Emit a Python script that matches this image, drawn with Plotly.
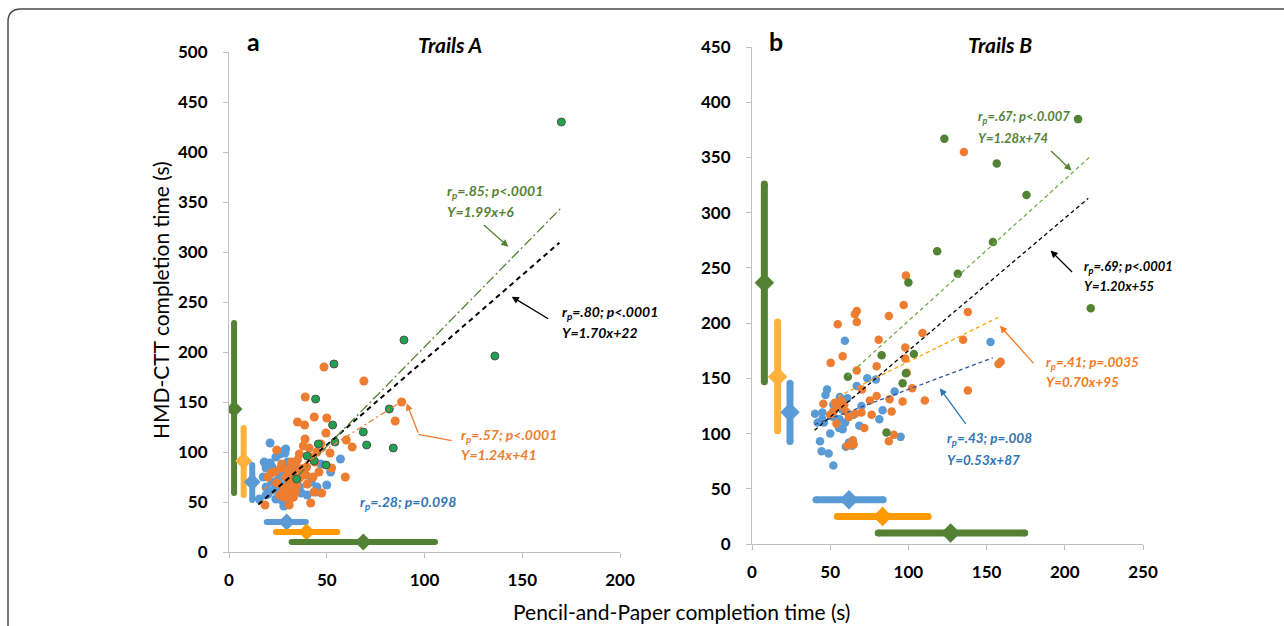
import plotly.graph_objects as go

W, H = 1284, 626
FONT = "Lato, 'Open Sans', sans-serif"

# ---------------- Panel a (Trails A) ----------------
a_blue_x = [21, 57, 50, 45, 24, 26, 28, 29, 22, 17.5, 19, 15.5, 19, 25, 26, 24, 31, 33, 26, 26, 37, 36, 28, 38,
            22, 19, 30, 33, 20, 29, 35, 23, 31, 27, 40, 42, 18, 30, 52, 47, 32, 24, 21, 28.6, 44.8]
a_blue_y = [109, 93, 67, 65, 95, 98, 101, 103, 85, 75, 65, 53, 57, 72, 78, 70, 75, 80, 60, 63, 59, 65, 46, 77,
            70, 84, 90, 87, 58, 68, 72, 62, 55, 52, 57, 70, 90, 82, 80, 88, 58, 53, 89, 99, 60]
a_orange_x = [48.6, 69, 88.3, 39, 35, 38.7, 43.6, 50, 85, 38.9, 49.6, 60, 63, 38, 36, 51.7, 52.5, 59.5, 24.4, 26.4,
              21.5, 23.5, 32, 30.3, 32.6, 39.4, 40, 24.4, 30, 32, 33, 26, 18.4, 30.8, 41.8, 47.4, 43.5, 28, 34, 36,
              34.6, 37.6, 39.7, 42, 45, 41, 47, 35, 31, 29, 27, 44, 33, 36, 28, 20, 46, 31, 34, 43]
a_orange_y = [185, 171, 150, 155, 130, 127, 135, 134, 131, 113, 119, 112, 105, 106, 98, 99, 84, 75, 102, 84,
              79, 80, 90, 82, 77, 77, 68, 69, 62, 58, 55, 57, 47, 47, 49, 59, 60, 64, 86, 83,
              66, 80, 85, 95, 100, 104, 108, 92, 70, 75, 88, 90, 62, 74, 55, 75, 80, 52, 60, 75]
a_green_x = [170, 136, 89.5, 53.7, 44.3, 53, 68.7, 70.4, 84, 82, 45.7, 54.2, 40, 43.6, 49.6, 34.6]
a_green_y = [430, 196, 212, 188, 153, 127, 120, 107, 104, 143, 108, 110, 96, 91, 87, 73]

# summary bars (green, orange, blue) along y; (blue, orange, green) along x
a_vbar_x = [2.6, 7.5, 11.9]
a_vbar_lo = [59, 57, 52]
a_vbar_mid = [143, 91, 70]
a_vbar_hi = [229, 124, 87]
a_hbar_y = [30, 20, 10]
a_hbar_lo = [19.3, 24, 32]
a_hbar_mid = [29.5, 39.7, 68.7]
a_hbar_hi = [39.3, 55.4, 105.4]

# regression lines: black, green, orange
a_fit_slope = [1.70, 1.99, 1.24]
a_fit_icpt = [22, 6, 41]
a_fit_x0 = [15, 35, 17]
a_fit_x1 = [169, 170, 88]

# ---------------- Panel b (Trails B) ----------------
b_blue_x = [59.4, 73.7, 79.2, 48, 47, 56.2, 67, 61, 40.3, 45, 45, 46, 52, 52, 52, 57.5, 70, 83.5, 81.4, 91.2,
            59.6, 55.6, 58, 68.6, 43.5, 44.5, 49, 60, 64, 62, 52, 95, 152.5, 50, 42, 65, 56]
b_blue_y = [184, 150, 149, 140, 135, 133, 143, 132, 118, 119, 113, 110, 126, 120, 115, 122, 125, 121, 113, 138,
            110, 105, 104, 107, 93, 84, 82, 88, 89, 92, 71, 97, 183, 100, 110, 117, 113]
b_orange_x = [67, 65.8, 67, 54.8, 87.5, 97, 109, 81, 50.3, 58, 67, 79.7, 98, 98, 99, 102.4, 70.3, 75.4, 79.7, 88,
              96.3, 110.5, 89.3, 45.6, 53, 55, 52, 50, 57, 59, 66, 70, 76.5, 54, 71.8, 64.5, 65, 61, 90.7, 87.5,
              135.5, 138, 135, 159, 157.6, 138, 98.4, 60, 62]
b_orange_y = [211, 208, 201, 199, 206.5, 216.5, 191, 185, 164, 170, 157, 161, 178, 168, 155, 141, 140, 130, 134, 131,
              129, 130, 120, 127, 128, 124, 120, 117, 130, 126, 118, 119, 117, 109, 105, 94, 90, 89, 99, 93,
              355, 210, 185, 165, 163, 139, 243, 120, 115]
b_green_x = [208.5, 123, 156.5, 175.5, 154, 118.4, 131.6, 216.6, 100, 103.5, 98.4, 96.3, 82.9, 61.3, 86]
b_green_y = [384.7, 367, 344.5, 316, 273.5, 265, 244.6, 213.5, 236.7, 172, 154.6, 145.6, 171, 151.5, 101]

b_vbar_x = [7.9, 16.4, 24.3]
b_vbar_lo = [147, 102.6, 92.7]
b_vbar_mid = [236.5, 151.5, 119.3]
b_vbar_hi = [326, 201, 145.5]
b_hbar_y = [40, 25, 10]
b_hbar_lo = [40.9, 54.5, 80.7]
b_hbar_mid = [62, 83.5, 127]
b_hbar_hi = [83.9, 112.7, 174.4]

# regression lines: black, green, orange, blue
b_fit_slope = [1.20, 1.28, 0.70, 0.53]
b_fit_icpt = [55, 74, 95, 87]
b_fit_x0 = [40, 61, 55, 40]
b_fit_x1 = [215, 217, 159, 154]

# ---------------- colours ----------------
BLUE = "#5B9BD5"
ORANGE = "#ED7D31"
GREEN_A = "#1FA350"
GREEN = "#548235"
ORANGE_V = "#FFB13D"
ORANGE_H = "#FF9A00"

fig = go.Figure()


def pts(x, y, color, xa, ya, size=8, line=None):
    fig.add_trace(go.Scatter(x=x, y=y, mode="markers", xaxis=xa, yaxis=ya, hoverinfo="skip",
                             marker=dict(color=color, size=size, opacity=1,
                                         line=line or dict(width=0))))


def bar(xs, ys, color, xa, ya, lw, dsize):
    fig.add_trace(go.Scatter(x=xs, y=ys, mode="lines+markers", xaxis=xa, yaxis=ya, hoverinfo="skip",
                             line=dict(color=color, width=lw),
                             marker=dict(color=color, symbol=["circle", "diamond", "circle"], opacity=1,
                                         size=[lw, dsize, lw], line=dict(width=0))))


def fit(x0, x1, m, c, color, dash, width, xa, ya):
    fig.add_trace(go.Scatter(x=[x0, x1], y=[m * x0 + c, m * x1 + c], mode="lines", xaxis=xa, yaxis=ya,
                             hoverinfo="skip", line=dict(color=color, dash=dash, width=width)))


# panel a
pts(a_blue_x, a_blue_y, BLUE, "x", "y", 9)
pts(a_orange_x, a_orange_y, ORANGE, "x", "y", 9)
pts(a_green_x, a_green_y, GREEN_A, "x", "y", 8, dict(color="#505050", width=1))
a_vcols = [GREEN, ORANGE_V, BLUE]
for i in range(3):
    bar([a_vbar_x[i]] * 3, [a_vbar_lo[i], a_vbar_mid[i], a_vbar_hi[i]], a_vcols[i], "x", "y", 6, 13)
a_hcols = [BLUE, ORANGE_H, GREEN]
for i in range(3):
    bar([a_hbar_lo[i], a_hbar_mid[i], a_hbar_hi[i]], [a_hbar_y[i]] * 3, a_hcols[i], "x", "y", 6, 13)
a_fit_cols = ["black", GREEN, ORANGE]
a_fit_dash = ["5px,4px", "10px,3px,2px,3px", "6px,3px,2px,3px"]
a_fit_w = [2, 1.3, 1.3]
for i in range(3):
    fit(a_fit_x0[i], a_fit_x1[i], a_fit_slope[i], a_fit_icpt[i], a_fit_cols[i], a_fit_dash[i], a_fit_w[i], "x", "y")

# panel b
pts(b_blue_x, b_blue_y, BLUE, "x2", "y2", 8.5)
pts(b_orange_x, b_orange_y, ORANGE, "x2", "y2", 8.5)
pts(b_green_x, b_green_y, GREEN, "x2", "y2", 8.5)
b_vcols = [GREEN, ORANGE_V, BLUE]
for i in range(3):
    bar([b_vbar_x[i]] * 3, [b_vbar_lo[i], b_vbar_mid[i], b_vbar_hi[i]], b_vcols[i], "x2", "y2", 7, 15)
b_hcols = [BLUE, ORANGE_H, GREEN]
for i in range(3):
    bar([b_hbar_lo[i], b_hbar_mid[i], b_hbar_hi[i]], [b_hbar_y[i]] * 3, b_hcols[i], "x2", "y2", 7, 15)
b_fit_cols = ["black", "#70AD47", "#FFA000", "#2F5597"]
for i in range(4):
    fit(b_fit_x0[i], b_fit_x1[i], b_fit_slope[i], b_fit_icpt[i], b_fit_cols[i], "4px,3px", 1.3, "x2", "y2")

# ---------------- axes ----------------
def px(x):
    return x / W


def py(y):
    return 1 - y / H


axis_common = dict(showgrid=False, zeroline=False, showline=True, linecolor="#BFBFBF", linewidth=1,
                   ticks="outside", ticklen=5, tickcolor="#BFBFBF", automargin=False,
                   tickfont=dict(family=FONT, size=17, color="black", weight="bold"), fixedrange=True)

fig.update_layout(
    width=W, height=H, margin=dict(l=0, r=0, t=0, b=0, pad=0, autoexpand=False), showlegend=False,
    paper_bgcolor="white", plot_bgcolor="white",
    xaxis=dict(domain=[px(229), px(620)], range=[0, 200], dtick=50, anchor="y", ticklabelstandoff=8, **axis_common),
    yaxis=dict(domain=[py(552), py(52)], range=[0, 500], dtick=50, anchor="x", ticklabelstandoff=12, **axis_common),
    xaxis2=dict(domain=[px(752), px(1143)], range=[0, 250], dtick=50, anchor="y2", ticklabelstandoff=8, **axis_common),
    yaxis2=dict(domain=[py(544), py(47)], range=[0, 450], dtick=50, anchor="x2", ticklabelstandoff=12, **axis_common),
)

ann = []


def text(x, y, s, size=13, color="black", xanchor="left", angle=0):
    ann.append(dict(x=px(x), y=py(y), xref="paper", yref="paper", text=s, showarrow=False,
                    xanchor=xanchor, yanchor="middle", textangle=angle,
                    font=dict(family=FONT, size=size, color=color)))


def arrow(x, y, ax, ay, color, xr, yr):
    ann.append(dict(x=x, y=y, xref=xr, yref=yr, ax=ax, ay=ay, axref="pixel", ayref="pixel", text="",
                    showarrow=True, arrowhead=2, arrowsize=1.1, arrowwidth=1.3, arrowcolor=color))


def stat(x, y1, y2, r, eq, color, size=14):
    text(x, y1, "<b><i>r<sub>p</sub>" + r + "</i></b>", size, color)
    text(x, y2, "<b><i>" + eq + "</i></b>", size, color)


# titles
text(253, 41, "<b>a</b>", 25, "black", "center")
text(776, 41, "<b>b</b>", 25, "black", "center")
text(450, 45, "<b><i>Trails A</i></b>", 21, "black", "center")
text(1000, 45, "<b><i>Trails B</i></b>", 21, "black", "center")
text(160, 300, "HMD-CTT completion time (s)", 21, "black", "center", -90)
text(681, 611, "Pencil-and-Paper completion time (s)", 21, "black", "center")

# panel a stats
stat(445, 191, 211, "=.85; p&lt;.0001", "Y=1.99x+6", GREEN)
stat(560, 312, 332, "=.80; p&lt;.0001", "Y=1.70x+22", "black")
stat(459, 435, 454, "=.57; p&lt;.0001", "Y=1.24x+41", ORANGE)
text(358, 502, "<b><i>r<sub>p</sub>=.28; p=0.098</i></b>", 14, "#2E75B6")
arrow(142.9, 305.3, -26, -23, GREEN, "x", "y")
arrow(144.6, 255.3, 38, 23, "black", "x", "y")
arrow(90.9, 148.7, 12, 31, ORANGE, "x", "y")

# panel b stats
stat(976, 117, 138, "=.67; p&lt;.0.007", "Y=1.28x+74", GREEN, 13)
stat(1082, 267, 286, "=.69; p&lt;.0001", "Y=1.20x+55", "black", 13)
stat(1044, 363, 382, "=.41; p=.0035", "Y=0.70x+95", "#F47A20", 13.5)
stat(945, 439, 460, "=.43; p=.008", "Y=0.53x+87", "#2E75B6", 13.5)
arrow(204.3, 338.1, -22, -21, GREEN, "x2", "y2")
arrow(190.9, 265.7, 23, 23, "black", "x2", "y2")
arrow(158.5, 197.5, 35, 39, "#F47A20", "x2", "y2")
arrow(120.1, 141.0, 27, 37, "#2E75B6", "x2", "y2")

fig.update_layout(annotations=ann)

# elbow of the orange arrow (panel a) and the outer frame
shapes = [
    dict(type="line", xref="x", yref="y", x0=96.8, y0=117.7, x1=113.9, y1=111.3,
         line=dict(color=ORANGE, width=1.3)),
    dict(type="path", xref="paper", yref="paper",
         path=f"M {px(8)},{py(640)} L {px(8)},{py(22)} Q {px(8)},{py(9)} {px(21)},{py(9)} L {px(1300)},{py(9)}",
         line=dict(color="#4A4A4A", width=1.5)),
]
fig.update_layout(shapes=shapes)

fig.write_html("out.html")
